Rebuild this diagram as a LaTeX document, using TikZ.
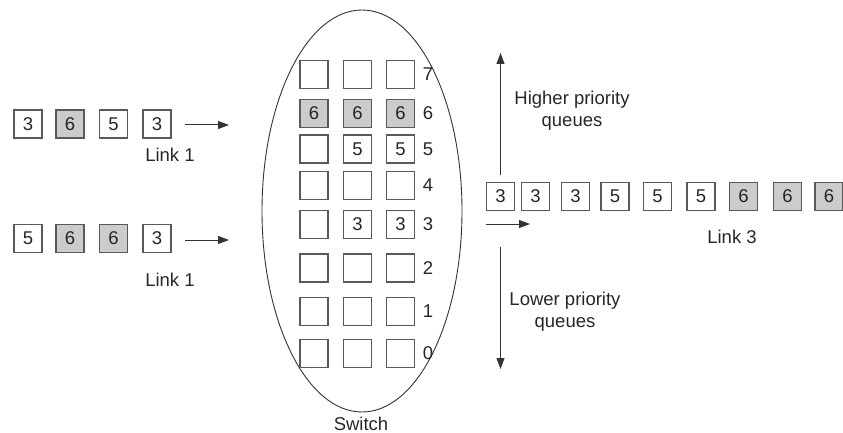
\documentclass[tikz,border=0pt]{standalone}
\usepackage{fontspec}
\setmainfont{Liberation Sans}
\usetikzlibrary{arrows.meta}
\begin{document}
\begin{tikzpicture}[x=1pt,y=-1pt,
  txt/.style={font=\fontsize{18.5}{22}\selectfont, text=black!85, inner sep=0pt},
  pkt/.style={draw=black!65, line width=1.5pt, fill=white, minimum size=28pt, inner sep=0pt, font=\fontsize{18.5}{22}\selectfont, text=black!85},
  pktg/.style={pkt, fill=black!20},
  arr/.style={line width=1pt, black!80, -{Triangle[length=11pt,width=8pt]}}
]
\useasboundingbox (0,0) rectangle (843,433);
% left queues
\node[pkt]  (a1) at (28,124) {3};
\node[pktg] (a2) at (70,124) {6};
\node[pkt]  (a3) at (113.5,124) {5};
\node[pkt]  (a4) at (157,124) {3};
\node[txt]  (l1) at (170,155) {Link 1};
\coordinate (a5) at (185,125);
\coordinate (a6) at (229,125);
\draw[arr] (a5) -- (a6);

\node[pkt]  (b1) at (28,238.5) {5};
\node[pktg] (b2) at (70,238.5) {6};
\node[pktg] (b3) at (113.5,238.5) {6};
\node[pkt]  (b4) at (157,238.5) {3};
\node[txt]  (l2) at (170,280) {Link 1};
\coordinate (b5) at (185,240);
\coordinate (b6) at (229,240);
\draw[arr] (b5) -- (b6);

% switch
\draw[line width=0.9pt, black!80] (362,211) ellipse [x radius=100, y radius=201];
\node[txt] (sw) at (361,424) {Switch};

% grid
\foreach \r/\y in {7/74.5,6/113.5,5/149,4/185.5,3/224.5,2/268,1/311.5,0/353.5}{
  \node[txt] (lab\r) at (428,\y) {\r};
}
\node[pkt] (g7a) at (314,74.5) {};
\node[pkt] (g7b) at (357.5,74.5) {};
\node[pkt] (g7c) at (400.5,74.5) {};
\node[pktg] (g6a) at (314,113.5) {6};
\node[pktg] (g6b) at (357.5,113.5) {6};
\node[pktg] (g6c) at (400.5,113.5) {6};
\node[pkt] (g5a) at (314,149) {};
\node[pkt] (g5b) at (357.5,149) {5};
\node[pkt] (g5c) at (400.5,149) {5};
\node[pkt] (g4a) at (314,185.5) {};
\node[pkt] (g4b) at (357.5,185.5) {};
\node[pkt] (g4c) at (400.5,185.5) {};
\node[pkt] (g3a) at (314,224.5) {};
\node[pkt] (g3b) at (357.5,224.5) {3};
\node[pkt] (g3c) at (400.5,224.5) {3};
\node[pkt] (g2a) at (314,268) {};
\node[pkt] (g2b) at (357.5,268) {};
\node[pkt] (g2c) at (400.5,268) {};
\node[pkt] (g1a) at (314,311.5) {};
\node[pkt] (g1b) at (357.5,311.5) {};
\node[pkt] (g1c) at (400.5,311.5) {};
\node[pkt] (g0a) at (314,353.5) {};
\node[pkt] (g0b) at (357.5,353.5) {};
\node[pkt] (g0c) at (400.5,353.5) {};

% priority arrows
\coordinate (u1) at (500.5,175);
\coordinate (u2) at (500.5,53);
\draw[arr] (u1) -- (u2);
\coordinate (d1) at (500.5,247);
\coordinate (d2) at (500.5,369);
\draw[arr] (d1) -- (d2);
\node[txt, align=center] (hp) at (572,111) {Higher priority\\queues};
\node[txt, align=center] (lp) at (565,312) {Lower priority\\queues};

% link 3
\node[pkt]  (c1) at (500.5,196.5) {3};
\node[pkt]  (c2) at (535.5,196.5) {3};
\node[pkt]  (c3) at (575.5,196.5) {3};
\node[pkt]  (c4) at (615,196.5) {5};
\node[pkt]  (c5) at (657.5,196.5) {5};
\node[pkt]  (c6) at (701,196.5) {5};
\node[pktg] (c7) at (743.5,196.5) {6};
\node[pktg] (c8) at (787.5,196.5) {6};
\node[pktg] (c9) at (829,196.5) {6};
\coordinate (o1) at (486,224);
\coordinate (o2) at (530,224);
\draw[arr] (o1) -- (o2);
\node[txt] (l3) at (732,237) {Link 3};
\end{tikzpicture}
\end{document}
